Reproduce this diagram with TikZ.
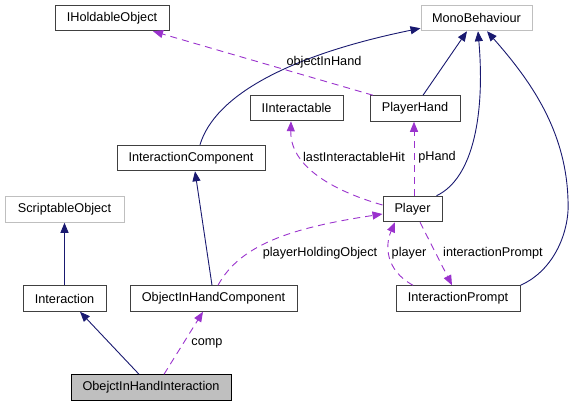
\documentclass[tikz,border=0pt]{standalone}
\usepackage{fontspec}
\setmainfont{Liberation Sans}
\usetikzlibrary{arrows.meta}
\definecolor{inh}{RGB}{25,25,112}
\definecolor{use}{RGB}{154,50,205}
\definecolor{bord}{RGB}{64,64,64}
\definecolor{ext}{RGB}{191,191,191}
\begin{document}
\begin{tikzpicture}[x=1pt,y=-1pt,
  box/.style={draw=bord,line width=1pt,rectangle,inner sep=0pt,minimum height=25.5pt,fill=white,
    font=\fontsize{12.7}{15}\selectfont},
  extbox/.style={box,draw=ext},
  curbox/.style={box,fill=ext,draw=black},
  inhe/.style={draw=inh,line width=0.9pt,-{Triangle[length=10pt,width=8pt]}},
  usee/.style={draw=use,line width=0.9pt,dash pattern=on 7pt off 5pt,-{Triangle[length=10pt,width=8pt]}},
  lbl/.style={inner sep=0pt,font=\fontsize{12.7}{15}\selectfont}]
\useasboundingbox (0,0) rectangle (573,407);
\node[box,minimum width=114pt] (IHold) at (112,18) {IHoldableObject};
\node[extbox,minimum width=111pt] (Mono) at (476.5,18) {MonoBehaviour};
\node[box,minimum width=93pt] (IInter) at (296.5,108) {IInteractable};
\node[box,minimum width=90pt] (PHand) at (415,108.5) {PlayerHand};
\node[box,minimum width=148pt] (IComp) at (191,158) {InteractionComponent};
\node[extbox,minimum width=119pt] (SObj) at (64.5,209.5) {ScriptableObject};
\node[box,minimum width=59pt] (Player) at (412.5,209) {Player};
\node[box,minimum width=83pt] (Inter) at (64.5,298.5) {Interaction};
\node[box,minimum width=167pt] (OIHC) at (213.5,298.5) {ObjectInHandComponent};
\node[box,minimum width=124pt] (IPrompt) at (458,298.5) {InteractionPrompt};
\node[curbox,minimum width=160pt] (OIHI) at (151,387.5) {ObejctInHandInteraction};
% inheritance
\draw[inhe] ([xshift=9pt]IComp.north) .. controls (215,95) and (290,55) .. ([yshift=3pt]Mono.south west);
\draw[inhe] ([xshift=8pt]PHand.north) -- ([xshift=-9.5pt]Mono.south);
\draw[inhe] ([xshift=-6pt]Player.north east) .. controls (474,178) and (485,112) .. ([xshift=1.5pt]Mono.south);
\draw[inhe] (IPrompt.north east) .. controls (555,270) and (570,230) .. (568,200) .. controls (566,130) and (530,80) .. ([xshift=10.5pt]Mono.south);
\draw[inhe] (Inter.north) -- (SObj.south);
\draw[inhe] ([xshift=-1.5pt]OIHC.north) -- ([xshift=4pt]IComp.south);
\draw[inhe] ([xshift=-12pt]OIHI.north) -- ([xshift=15.5pt]Inter.south);
% usage
\draw[usee] ([xshift=13pt]OIHI.north) -- ([xshift=-10.5pt]OIHC.south);
\node[lbl] (lcomp) at (207,343) {comp};
\draw[usee] ([xshift=-42pt]PHand.north) -- ([xshift=41pt]IHold.south);
\node[lbl] (lobj) at (324,62) {objectInHand};
\draw[usee] ([yshift=4pt]Player.west) .. controls (330,190) and (290,165) .. ([xshift=-5.5pt]IInter.south);
\node[lbl] (llast) at (354,157) {lastInteractableHit};
\draw[usee] ([xshift=1.5pt]Player.north) -- ([xshift=-1pt]PHand.south);
\node[lbl] (lph) at (437,157) {pHand};
\draw[usee] ([xshift=4.5pt]OIHC.north) .. controls (240,245) and (290,228) .. ([yshift=-5pt]Player.west);
\node[lbl] (lpho) at (320,253) {playerHoldingObject};
\draw[usee] ([xshift=-45pt]IPrompt.north) .. controls (385,270) and (385,245) .. ([xshift=-17.5pt]Player.south);
\node[lbl] (lpl) at (409,253) {player};
\draw[usee] ([xshift=7.5pt]Player.south) -- ([xshift=-6pt]IPrompt.north);
\node[lbl] (lip) at (493,253) {interactionPrompt};
\end{tikzpicture}
\end{document}
